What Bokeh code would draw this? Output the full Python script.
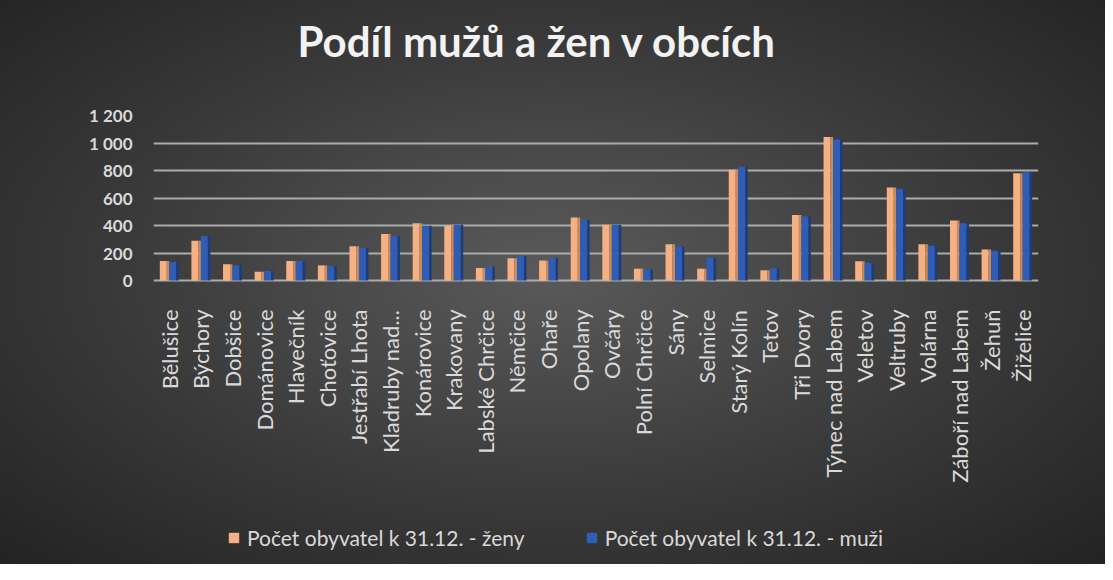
from math import pi
from bokeh.plotting import figure
from bokeh.models import ColumnDataSource, FixedTicker, Legend, LegendItem, Range1d
from bokeh.transform import dodge
from bokeh.embed import file_html
from bokeh.resources import INLINE

title_text = "Podíl mužů a žen v obcích"
series_names = ["Počet obyvatel k 31.12. - ženy", "Počet obyvatel k 31.12. - muži"]

obce = ["Bělušice", "Býchory", "Dobšice", "Dománovice", "Hlavečník", "Choťovice",
        "Jestřabí Lhota", "Kladruby nad...", "Konárovice", "Krakovany", "Labské Chrčice",
        "Němčice", "Ohaře", "Opolany", "Ovčáry", "Polní Chrčice", "Sány", "Selmice",
        "Starý Kolín", "Tetov", "Tři Dvory", "Týnec nad Labem", "Veletov", "Veltruby",
        "Volárna", "Záboří nad Labem", "Žehuň", "Žiželice"]

zeny = [142, 290, 118, 64, 142, 110, 250, 339, 417, 398, 91, 162, 145, 459,
        405, 86, 263, 86, 805, 74, 476, 1043, 140, 677, 263, 437, 226, 780]
muzi = [135, 324, 110, 69, 142, 105, 238, 324, 398, 405, 103, 177, 162, 442,
        405, 81, 245, 167, 827, 91, 466, 1026, 128, 667, 253, 417, 216, 790]

y_ticks = [0, 200, 400, 600, 800, 1000, 1200]
y_tick_labels = ["0", "200", "400", "600", "800", "1 000", "1 200"]

# layout: value axis 0..1200 occupies 165 px; the frame continues 284 px below 0
# so that category labels and legend live inside the frame
Y_MAX = 1200
Y_MIN = -Y_MAX * 284 / 165

src = ColumnDataSource(data=dict(obec=obce, zeny=zeny, muzi=muzi))

p = figure(x_range=obce, y_range=Range1d(Y_MIN, Y_MAX), width=1105, height=564,
           output_backend="svg", toolbar_location=None,
           min_border_left=153, min_border_right=67, min_border_top=115, min_border_bottom=0)
p.styles = {"background": "radial-gradient(ellipse at 50% 48%, #5a5a5a 0%, #3a3a3a 55%, #232323 100%)"}
p.border_fill_color = None
p.background_fill_color = None
p.outline_line_color = None

# 3D-like bars: front face + darker side face
o_front = p.vbar(x=dodge("obec", -0.19, range=p.x_range), top="zeny", width=0.22, source=src,
                 fill_color="#f5b184", line_color=None)
p.vbar(x=dodge("obec", -0.04, range=p.x_range), top="zeny", width=0.08, source=src,
       fill_color="#c98a5c", line_color=None)
b_front = p.vbar(x=dodge("obec", 0.11, range=p.x_range), top="muzi", width=0.22, source=src,
                 fill_color="#2f5cb5", line_color=None)
p.vbar(x=dodge("obec", 0.26, range=p.x_range), top="muzi", width=0.08, source=src,
       fill_color="#1d3c7c", line_color=None)

p.title.text = title_text + "\n"
p.title.align = "left"
p.title.offset = 144
p.title.text_font = "Lato"
p.title.text_font_style = "bold"
p.title.text_font_size = "42px"
p.title.text_color = "#f2f2f2"
p.title.vertical_align = "bottom"
p.title.standoff = 0

p.xgrid.grid_line_color = None
p.ygrid.grid_line_color = "#ababab"
p.ygrid.grid_line_width = 2
p.ygrid.ticker = FixedTicker(ticks=y_ticks)

p.yaxis.ticker = FixedTicker(ticks=y_ticks)
p.yaxis.major_label_overrides = {t: l for t, l in zip(y_ticks, y_tick_labels)}
p.yaxis.axis_line_color = None
p.yaxis.major_tick_line_color = None
p.yaxis.major_tick_out = 0
p.yaxis.major_tick_in = 0
p.yaxis.minor_tick_line_color = None
p.yaxis.major_label_standoff = 21
p.yaxis.major_label_text_font = "Lato"
p.yaxis.major_label_text_font_style = "bold"
p.yaxis.major_label_text_font_size = "17px"
p.yaxis.major_label_text_color = "#d9d9d9"

p.xaxis.fixed_location = 0
p.xaxis.axis_line_color = None
p.xaxis.major_tick_line_color = None
p.xaxis.major_tick_out = 0
p.xaxis.major_tick_in = 0
p.xaxis.major_label_orientation = pi / 2
p.xaxis.major_label_standoff = 29
p.xaxis.major_label_text_font = "Lato"
p.xaxis.major_label_text_font_size = "22px"
p.xaxis.major_label_text_color = "#d9d9d9"

legend = Legend(items=[LegendItem(label=series_names[0], renderers=[o_front]),
                       LegendItem(label=series_names[1], renderers=[b_front])],
                orientation="horizontal", location=(74, 14),
                background_fill_alpha=0, border_line_color=None,
                padding=0, margin=0, spacing=60, label_standoff=7,
                glyph_width=13, glyph_height=13,
                label_text_font="Lato", label_text_font_size="21px",
                label_text_color="#d9d9d9")
p.add_layout(legend, "center")

open("out.html", "w").write(file_html(p, INLINE))
